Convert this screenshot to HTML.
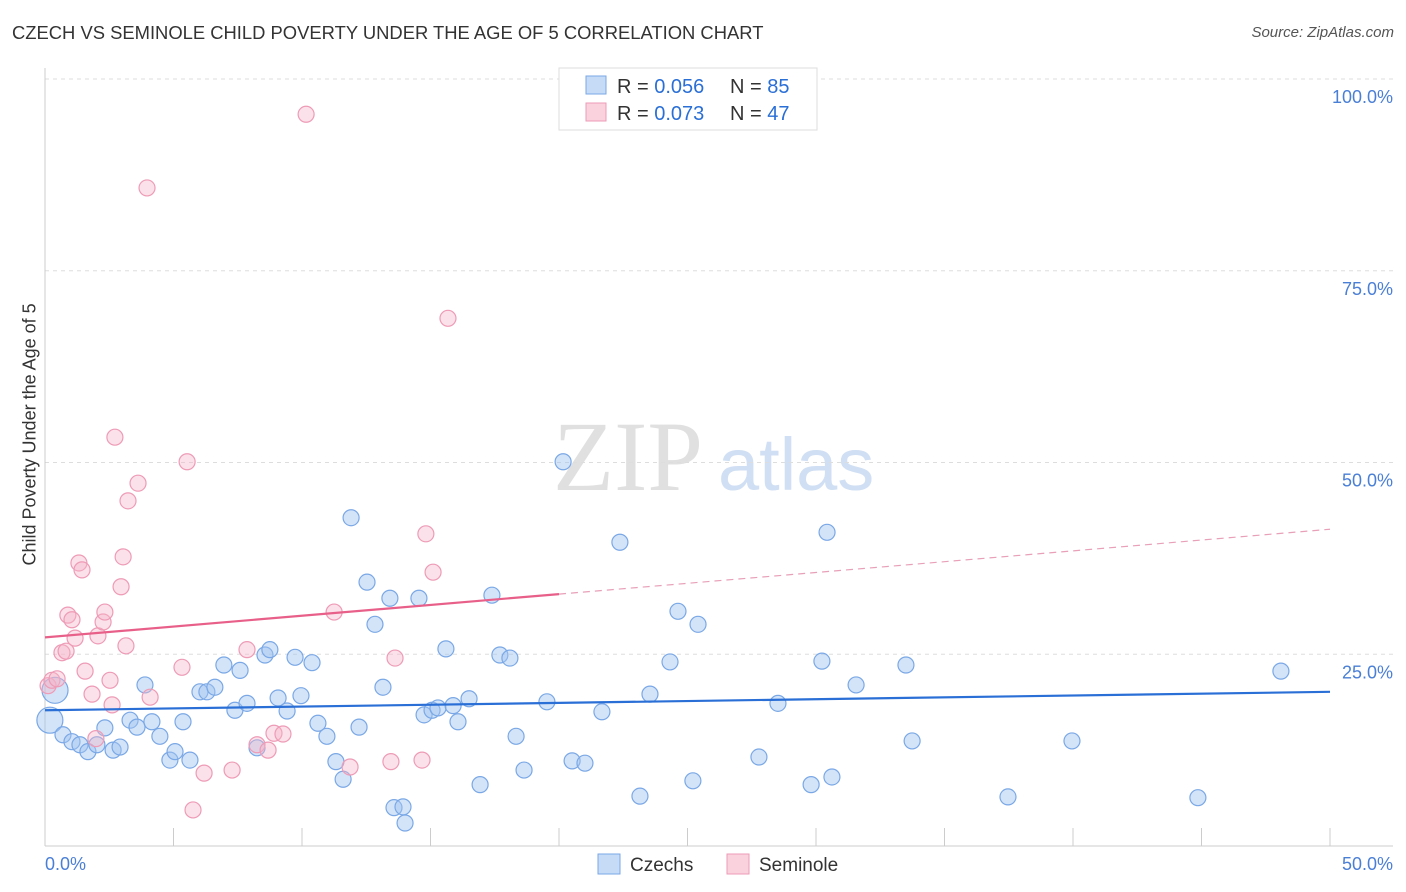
<!DOCTYPE html>
<html><head><meta charset="utf-8"><style>
body{margin:0;background:#fff;font-family:"Liberation Sans",sans-serif;}
#wrap{position:relative;width:1406px;height:892px;overflow:hidden;}
.t{position:absolute;white-space:nowrap;}
</style></head><body>
<div id="wrap">
<div class="t" style="left:12px;top:22px;font-size:18.4px;color:#333;">CZECH VS SEMINOLE CHILD POVERTY UNDER THE AGE OF 5 CORRELATION CHART</div>
<div class="t" style="right:12px;top:24px;font-size:15px;color:#555;font-style:italic;">Source: ZipAtlas.com</div>
<div class="t" style="left:-80px;top:445px;width:220px;text-align:center;transform:rotate(-90deg);font-size:18px;color:#333;">Child Poverty Under the Age of 5</div>
<svg id="svg" width="1406" height="892" style="position:absolute;left:0;top:0"></svg>
</div>
<script>
const czX=[0.19,0.39,0.70,1.05,1.36,1.67,2.02,2.33,2.65,2.92,3.31,3.58,3.89,4.16,4.47,4.86,5.06,5.37,5.64,6.03,6.30,6.61,6.96,7.39,7.59,7.86,8.25,8.56,8.75,9.07,9.42,9.73,9.96,10.39,10.62,10.97,11.32,11.60,11.91,12.22,12.53,12.84,13.15,13.42,13.58,13.93,14.01,14.55,14.75,15.06,15.29,15.60,15.88,16.07,16.50,16.93,17.39,17.70,18.09,18.33,18.64,19.53,20.16,20.51,21.01,21.67,22.37,23.15,23.54,24.32,24.63,25.21,25.41,27.78,28.52,29.81,30.23,30.43,30.62,31.56,33.50,33.74,37.47,39.96,44.86,48.09];
const czY=[16.4,20.3,14.5,13.6,13.2,12.3,13.2,15.4,12.5,12.9,16.4,15.5,21.0,16.2,14.3,11.2,12.3,16.2,11.2,20.1,20.1,20.7,23.6,17.7,22.9,18.6,12.8,24.9,25.6,19.3,17.6,24.6,19.6,23.9,16.0,14.3,11.0,8.7,42.8,15.5,34.4,28.9,20.7,32.3,5.0,5.1,3.0,32.3,17.1,17.7,18.0,25.7,18.3,16.2,19.2,8.0,32.7,24.9,24.5,14.3,9.9,18.8,50.1,11.1,10.8,17.5,39.6,6.5,19.8,24.0,30.6,8.5,28.9,11.6,18.6,8.0,24.1,40.9,9.0,21.0,23.6,13.7,6.4,13.7,6.3,22.8];
const seX=[0.12,0.27,0.47,0.66,0.82,0.89,1.05,1.17,1.32,1.44,1.56,1.83,1.98,2.06,2.26,2.33,2.53,2.61,2.72,2.96,3.04,3.15,3.23,3.62,3.97,4.09,5.33,5.53,5.76,6.19,7.28,7.86,8.25,8.68,8.91,9.26,10.16,11.25,11.87,13.46,13.62,14.67,14.82,15.10,15.68];
const seY=[20.9,21.6,21.8,25.2,25.4,30.1,29.5,27.1,36.9,36.0,22.8,19.8,14.0,27.4,29.2,30.5,21.6,18.4,53.3,33.8,37.7,26.1,45.0,47.3,85.8,19.4,23.3,50.1,4.7,9.5,9.9,25.6,13.2,12.5,14.7,14.6,95.4,30.5,10.3,11.0,24.5,11.2,40.7,35.7,68.8];
const yTicks=[100,75,50,25];
const yTickLabels=["100.0%","75.0%","50.0%","25.0%"];
const trendCz=[17.7,20.1], trendSe=[27.2,41.3];
const X0=45,X1=1330,YB=846,YT=79;
const sx=v=>X0+(X1-X0)*v/50, sy=v=>YB-(YB-YT)*v/100;
const svg=document.getElementById('svg');const NS='http://www.w3.org/2000/svg';
function mk(t,a,p){const e=document.createElementNS(NS,t);for(const k in a)e.setAttribute(k,a[k]);(p||svg).appendChild(e);return e;}
let w=mk('text',{x:553,y:490,'font-size':100,fill:'#e0e0e0','font-family':'Liberation Serif,serif'});w.textContent='ZIP';


let w2=mk('text',{x:718,y:490,'font-size':74,fill:'#d0dff3','font-family':'Liberation Sans,sans-serif'});w2.textContent='atlas';


yTicks.forEach((v,i)=>{const g=mk('line',{x1:45,x2:1393,y1:sy(v),y2:sy(v),stroke:'#ddd','stroke-dasharray':'4,4'});


const t=mk('text',{x:1393,y:sy(v)+24,'text-anchor':'end','font-size':18,fill:'#4a7fd6'});t.textContent=yTickLabels[i];

});
mk('line',{x1:45,x2:45,y1:68,y2:846,stroke:'#ccc'});
mk('line',{x1:45,x2:1393,y1:846,y2:846,stroke:'#ccc'});
for(let i=0;i<=10;i++){const l=mk('line',{x1:sx(i*5),x2:sx(i*5),y1:828,y2:846,stroke:'#ccc'});

}
let a=mk('text',{x:45,y:870,'font-size':18,fill:'#4a7fd6'});a.textContent='0.0%';


let b=mk('text',{x:1393,y:870,'text-anchor':'end','font-size':18,fill:'#4a7fd6'});b.textContent='50.0%';


const big=[0,1];
czX.forEach((x,i)=>{const c=mk('circle',{cx:sx(x),cy:sy(czY[i]),r:big.includes(i)?13:8,fill:'rgba(160,195,240,0.45)',stroke:'#7aa8e6','stroke-width':1.2});

});
seX.forEach((x,i)=>{const c=mk('circle',{cx:sx(x),cy:sy(seY[i]),r:8,fill:'rgba(245,180,200,0.4)',stroke:'#ee9bb6','stroke-width':1.2});

});
let tl=mk('line',{x1:sx(0),x2:sx(50),y1:sy(trendCz[0]),y2:sy(trendCz[1]),stroke:'#2a6fd6','stroke-width':2.2});


const sm=v=>trendSe[0]+(trendSe[1]-trendSe[0])*v/50;
let ts=mk('line',{x1:sx(0),x2:sx(20),y1:sy(sm(0)),y2:sy(sm(20)),stroke:'#e8608a','stroke-width':2.2});


let td=mk('line',{x1:sx(20),x2:sx(50),y1:sy(sm(20)),y2:sy(sm(50)),stroke:'#e8a0b8','stroke-width':1.2,'stroke-dasharray':'7,5'});


let lg=mk('rect',{x:559,y:68,width:258,height:62,fill:'#fff',stroke:'#ddd'});


[[0,'0.056','85','rgba(160,195,240,0.6)','#7aa8e6'],[1,'0.073','47','rgba(245,180,200,0.6)','#ee9bb6']].forEach(([i,r,n,f,s])=>{
const y=76+i*27;const q=mk('rect',{x:586,y:y,width:20,height:18,fill:f,stroke:s});


const t=mk('text',{x:617,y:y+17,'font-size':20,fill:'#333'});
t.innerHTML=`R = <tspan fill="#2a6fd6">${r}</tspan><tspan x="730">N = </tspan><tspan fill="#2a6fd6">${n}</tspan>`;

});
[[598,'Czechs','rgba(160,195,240,0.6)','#7aa8e6'],[727,'Seminole','rgba(245,180,200,0.6)','#ee9bb6']].forEach(([x,l,f,s])=>{
const q=mk('rect',{x:x,y:854,width:22,height:20,fill:f,stroke:s});


const t=mk('text',{x:x+32,y:871,'font-size':19,fill:'#333'});t.textContent=l;

});
</script>
</body></html>
